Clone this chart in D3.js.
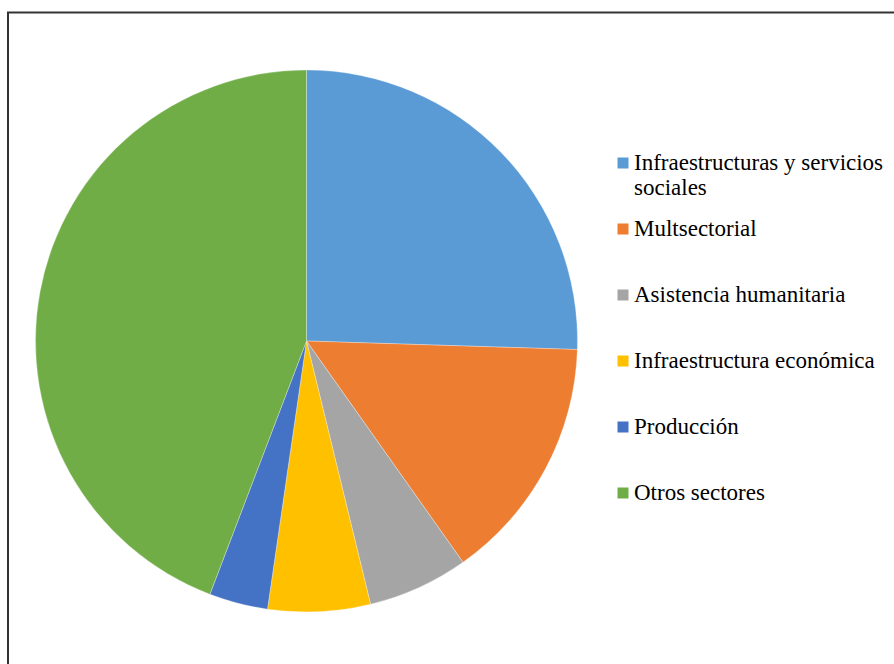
<!DOCTYPE html>
<html>
<head>
<meta charset="utf-8">
<script src="https://cdn.jsdelivr.net/npm/d3@7"></script>
<style>
html,body{margin:0;padding:0;background:#fff;}
svg{display:block;}
.leg text{font-family:"Liberation Serif","Times New Roman","DejaVu Serif",serif;font-size:23px;fill:#000;}
</style>
</head>
<body>
<svg id="chart" width="894" height="664"></svg>
<script>
const categories = ["Infraestructuras y servicios sociales","Multsectorial","Asistencia humanitaria","Infraestructura económica","Producción","Otros sectores"];
const legendLines = [["Infraestructuras y servicios","sociales"],["Multsectorial"],["Asistencia humanitaria"],["Infraestructura económica"],["Producción"],["Otros sectores"]];
const values = [25.5, 14.7, 6.0, 6.1, 3.5, 44.2];
const colors = ["#5B9BD5","#ED7D31","#A5A5A5","#FFC000","#4472C4","#70AD47"];

const svg = d3.select("#chart");
// frame
svg.append("rect").attr("x",8).attr("y",12.5).attr("width",900).attr("height",700)
  .attr("fill","none").attr("stroke","#333").attr("stroke-width",2);

const cx = 306.5, cy = 341, r = 271;
const data = categories.map((c,i)=>({name:c, value:values[i], color:colors[i]}));
const pie = d3.pie().value(d=>d.value).sort(null);
const arc = d3.arc().innerRadius(0).outerRadius(r);
const g = svg.append("g").attr("transform",`translate(${cx},${cy})`);
g.selectAll("path").data(pie(data)).join("path")
  .attr("d",arc).attr("fill",d=>d.data.color)
  .attr("stroke","#fff").attr("stroke-width",0.3);

const color = d3.scaleOrdinal().domain(categories).range(colors);
const ly = d3.scalePoint().domain(categories).range([163,493]);
const lg = svg.append("g").attr("class","leg");
categories.forEach((c,i)=>{
  const y = ly(c);
  lg.append("rect").attr("x",617.5).attr("y",y-5.5).attr("width",11).attr("height",11).attr("fill",color(c));
  const t = lg.append("text").attr("x",634).attr("y",y+6.8);
  legendLines[i].forEach((ln,j)=>{
    t.append("tspan").attr("x",634).attr("dy", j===0?0:25.5).text(ln);
  });
});
</script>
</body>
</html>
